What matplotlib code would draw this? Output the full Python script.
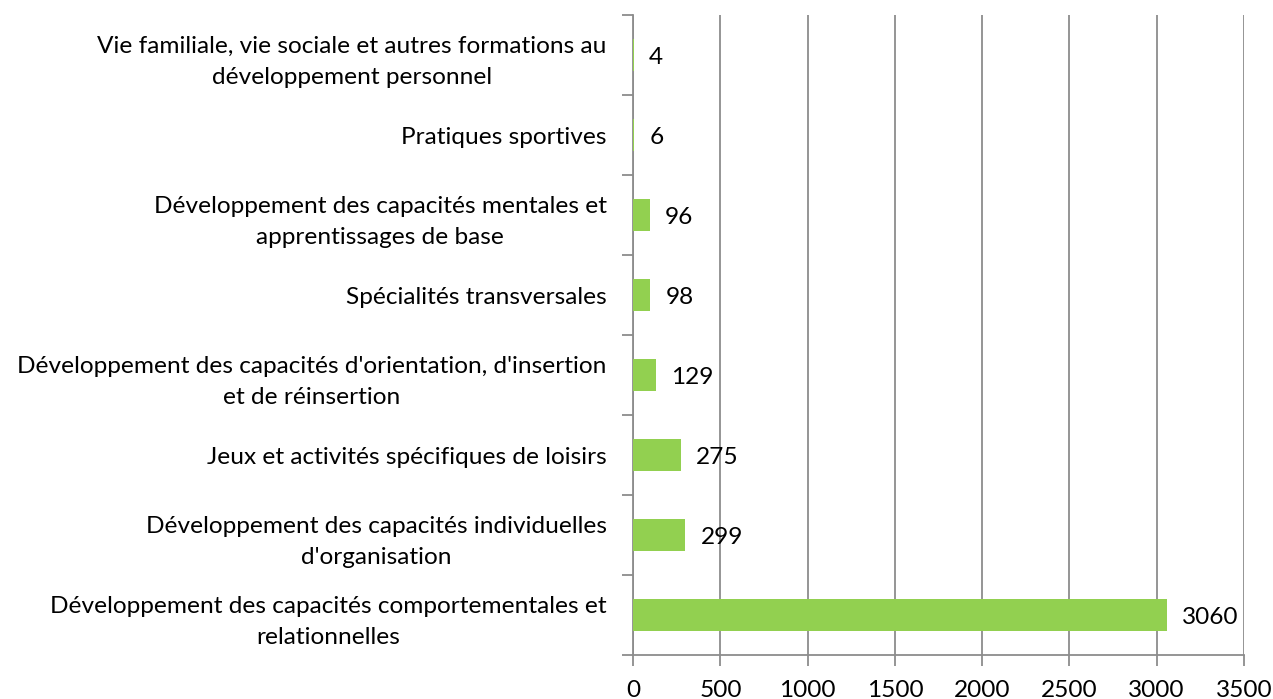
import matplotlib.pyplot as plt

categories = [
    "Développement des capacités comportementales et\nrelationnelles",
    "Développement des capacités individuelles\nd'organisation",
    "Jeux et activités spécifiques de loisirs",
    "Développement des capacités d'orientation, d'insertion\net de réinsertion",
    "Spécialités transversales",
    "Développement des capacités mentales et\napprentissages de base",
    "Pratiques sportives",
    "Vie familiale, vie sociale et autres formations au\ndéveloppement personnel",
]
values = [3060, 299, 275, 129, 98, 96, 6, 4]
xticks = [0, 500, 1000, 1500, 2000, 2500, 3000, 3500]

plt.rcParams['font.family'] = ['Lato', 'DejaVu Sans']
grey = '#8c8c8c'
fs = 17.6

fig = plt.figure(figsize=(12.73, 6.99), dpi=100)
ax = fig.add_axes([0.4973, 0.0629, 0.4799, 0.9156])

ypos = list(range(len(categories)))
ax.barh(ypos, values, height=0.4, color='#92D050', zorder=3)
for y, v in zip(ypos, values):
    ax.annotate(str(v), (v, y), xytext=(11, -2), textcoords='offset points',
                va='center', ha='left', fontsize=fs)

ax.set_xlim(0, 3500)
ax.set_ylim(-0.5, len(categories) - 0.5)
ax.set_xticks(xticks)
ax.set_xticklabels([str(t) for t in xticks], fontsize=fs)
ax.set_yticks(ypos)
ax.set_yticklabels(categories, fontsize=fs)
for lab in ax.get_yticklabels():
    lab.set_multialignment('center')
    lab.set_linespacing(1.6)

# category boundary ticks on the y axis
ax.set_yticks([i - 0.5 for i in range(len(categories) + 1)], minor=True)
ax.tick_params(axis='y', which='major', length=0, pad=19)
ax.tick_params(axis='y', which='minor', length=8, color=grey, width=1.3, direction='out')
ax.tick_params(axis='x', length=8, color=grey, width=1.3, pad=10)

ax.grid(axis='x', color=grey, linewidth=1.3, zorder=0)
for s in ['top', 'right']:
    ax.spines[s].set_visible(False)
for s in ['left', 'bottom']:
    ax.spines[s].set_color(grey)
    ax.spines[s].set_linewidth(1.3)

fig.savefig('out.png', dpi=100)
